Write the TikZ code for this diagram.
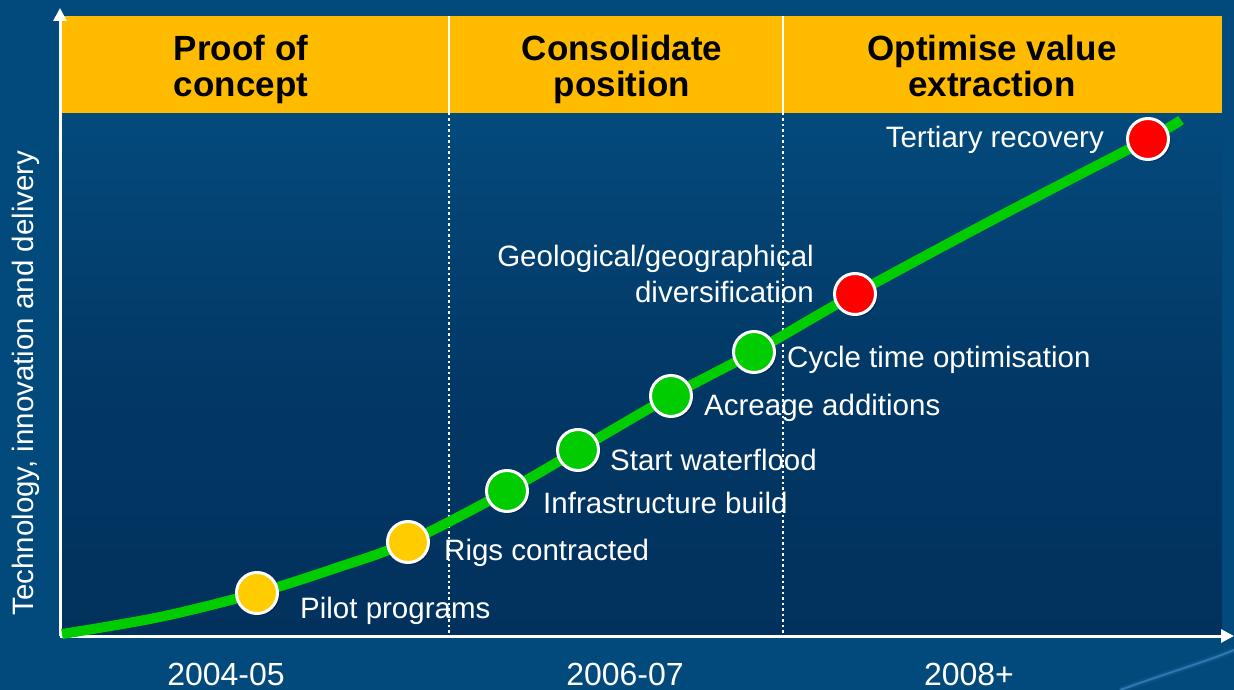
\documentclass[tikz,border=0pt]{standalone}
\usepackage{fontspec}
\setmainfont{Liberation Sans}
\usetikzlibrary{arrows.meta,shadows}
\definecolor{slidebg}{HTML}{034A7C}
\definecolor{plotdeep}{HTML}{02315D}
\definecolor{bandgold}{HTML}{FFBB00}
\definecolor{trackgreen}{HTML}{00CC00}
\definecolor{dotgold}{HTML}{FFCC00}
\definecolor{dotred}{HTML}{FF0000}
\definecolor{swoosh}{HTML}{4A9AD8}
\begin{document}
\begin{tikzpicture}[x=1pt,y=-1pt,
  axisline/.style={draw=white, line width=3pt, -{Triangle[length=13pt,width=13pt]}},
  divider/.style={draw=white, line width=2.5pt},
  divdots/.style={draw=white, line width=2.5pt, dash pattern=on 2.5pt off 3pt},
  track/.style={draw=trackgreen, line width=10pt},
  milestone/.style={circle, minimum size=41pt, inner sep=0pt, draw=white, line width=3pt,
    drop shadow={shadow xshift=2pt, shadow yshift=-2pt, opacity=0.35, fill=black}},
  phase/.style={font=\bfseries\fontsize{35}{36}\selectfont, align=center, text=black, inner sep=0pt},
  note/.style={font=\fontsize{29.5}{36}\selectfont, text=white, inner sep=0pt},
  period/.style={font=\fontsize{32}{36}\selectfont, text=white, inner sep=0pt},
]
\useasboundingbox (0,0) rectangle (1234,690);

% slide background and plotting field
\fill[slidebg] (0,0) rectangle (1234,690);
\shade[top color=slidebg, bottom color=plotdeep, middle color=plotdeep!70!slidebg]
  (62,113) rectangle (1222,636);
\draw[swoosh, line width=2pt, opacity=0.55] (1120,690) .. controls (1170,672) and (1205,662) .. (1234,650);
\draw[swoosh, line width=6pt, opacity=0.12] (1120,690) .. controls (1170,672) and (1205,662) .. (1234,650);

% phase header band
\fill[bandgold] (62,16) rectangle (1222,113);
\coordinate (d1top) at (449,16);
\coordinate (d1mid) at (449,113);
\coordinate (d1bot) at (449,636);
\coordinate (d2top) at (783,16);
\coordinate (d2mid) at (783,113);
\coordinate (d2bot) at (783,636);
\draw[divider] (d1top) -- (d1mid);
\draw[divider] (d2top) -- (d2mid);
\draw[divdots] (d1mid) -- (d1bot);
\draw[divdots] (d2mid) -- (d2bot);

\node[phase, anchor=base] (ph1) at (241,97) {Proof of\\concept};
\node[phase, anchor=base] (ph2) at (622,97) {Consolidate\\position};
\node[phase, anchor=base] (ph3) at (992,97) {Optimise value\\extraction};

% axes
\coordinate (origin) at (60,636);
\coordinate (ytip) at (60,8);
\coordinate (xtip) at (1234,636);
\draw[axisline] (origin) -- (ytip);
\draw[axisline] (origin) -- (xtip);

\node[note, rotate=90, anchor=base] (yaxis) at (33,383) {Technology, innovation and delivery};
\node[period, anchor=base] (yr1) at (226,685) {2004-05};
\node[period, anchor=base] (yr2) at (625,685) {2006-07};
\node[period, anchor=base] (yr3) at (969,685) {2008+};

% growth track
\coordinate (t0) at (62,634);
\coordinate (t1) at (160,617);
\coordinate (m1) at (257,593);
\coordinate (t2) at (333,569);
\coordinate (m2) at (408,542);
\coordinate (m3) at (507,491);
\coordinate (m4) at (578,450);
\coordinate (m5) at (671,396);
\coordinate (m6) at (754,352);
\coordinate (m7) at (855,294);
\coordinate (t3) at (1000,216);
\coordinate (m8) at (1148,139);
\coordinate (t4) at (1181,120);
\draw[track] plot[smooth, tension=0.55] coordinates {(t0) (t1) (m1) (t2) (m2) (m3) (m4) (m5) (m6) (m7) (t3) (m8) (t4)};

% milestones
\node[milestone, fill=dotgold] (pilot) at (m1) {};
\node[milestone, fill=dotgold] (rigs) at (m2) {};
\node[milestone, fill=trackgreen] (infra) at (m3) {};
\node[milestone, fill=trackgreen] (flood) at (m4) {};
\node[milestone, fill=trackgreen] (acre) at (m5) {};
\node[milestone, fill=trackgreen] (cycle) at (m6) {};
\node[milestone, fill=dotred] (geo) at (m7) {};
\node[milestone, fill=dotred] (tert) at (m8) {};

\node[note, anchor=base west] (pilotlbl) at (300,618) {Pilot programs};
\node[note, anchor=base west] (rigslbl) at (444,560) {Rigs contracted};
\node[note, anchor=base west] (infralbl) at (543,513) {Infrastructure build};
\node[note, anchor=base west] (floodlbl) at (610,470) {Start waterflood};
\node[note, anchor=base west] (acrelbl) at (704,415) {Acreage additions};
\node[note, anchor=base west] (cyclelbl) at (787,367) {Cycle time optimisation};
\node[note, anchor=base east, align=right] (geolbl) at (814,302) {Geological/geographical\\diversification};
\node[note, anchor=base east] (tertlbl) at (1104,147) {Tertiary recovery};
\end{tikzpicture}
\end{document}
